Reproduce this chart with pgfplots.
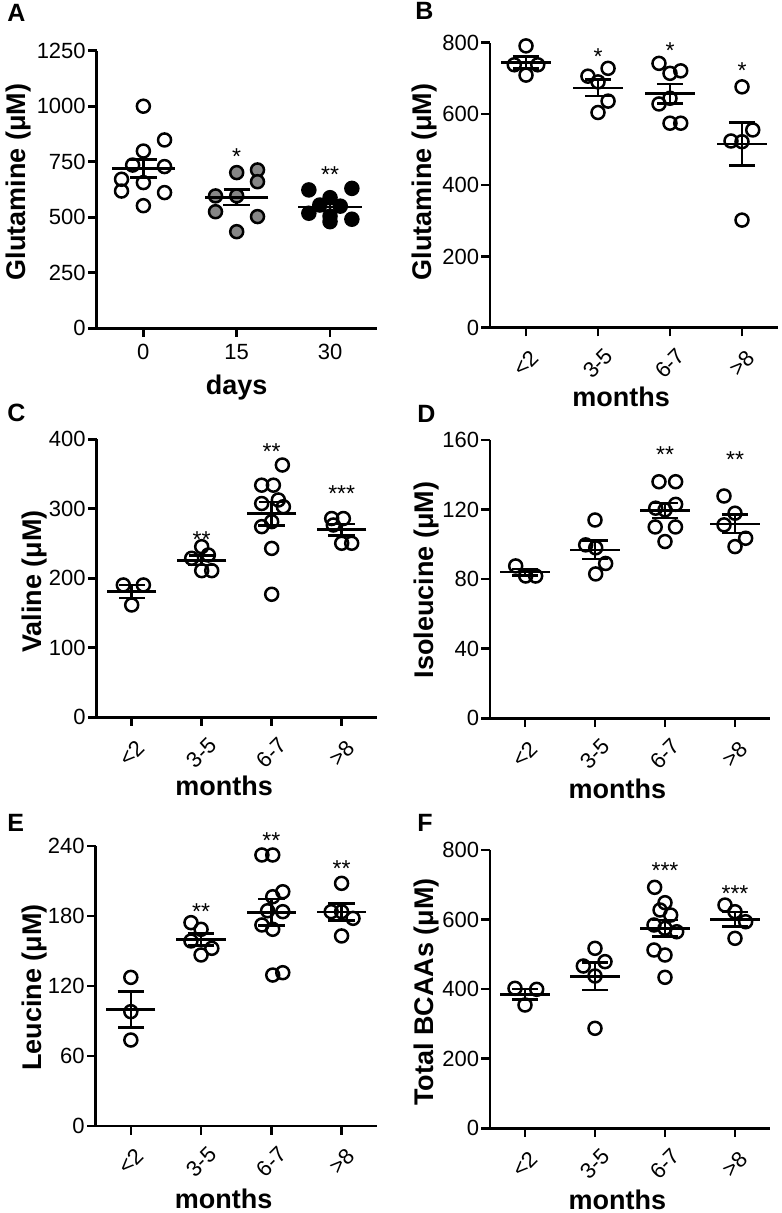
\documentclass[border=0pt]{standalone}
\usepackage{fontspec}
\setmainfont{Liberation Sans}
\usepackage{pgfplots}
\pgfplotsset{compat=1.18}

\tikzset{astr/.style={font=\fontsize{11.5}{12}\selectfont, inner sep=0pt}}
\pgfplotsset{
  panel/.style={
    scale only axis,
    anchor=south west,
    axis lines*=left,
    axis line style={line width=1.3pt, -},
    tick style={line width=1.3pt, black},
    tick align=outside,
    major tick length=4.3pt,
    ymin=0,
    clip=false,
    tick label style={font=\fontsize{11}{12}\selectfont},
    /pgf/number format/assume math mode=true,
    /pgf/number format/1000 sep={},
    scaled y ticks=false,
    label style={font=\bfseries\fontsize{13.5}{15}\selectfont},
    yticklabel style={inner sep=1pt},
  },
  months/.style={
    xtick={0,1,2,3},
    xmin=-0.5, xmax=3.5,
    xticklabels={<2,3-5,6-7,>8},
    xticklabel style={rotate=45, anchor=center},
    xticklabel shift=13.5pt,
    xlabel={months},
  },
  pts/.style={only marks, mark=o, mark size=3.25pt, mark options={line width=1.25pt, black}},
  meanbar/.style={black, only marks, mark=-, mark size=#1, mark options={line width=1.3pt},
    error bars/.cd, y dir=both, y explicit,
    error bar style={line width=1.3pt},
    error mark options={rotate=90, mark size=6.6pt, line width=1.3pt}},
  meanbar/.default=12.3pt,
}

\begin{document}
\begin{tikzpicture}
\useasboundingbox (0,0) rectangle (390.5pt,606.5pt);

% panel letters
\begin{scope}[every node/.style={anchor=base west, inner sep=0pt, font=\bfseries\fontsize{12.5}{13}\selectfont}]
\node at (3.5pt,595.5pt) {A};
\node at (207.5pt,596.5pt) {B};
\node at (3.5pt,395.65pt) {C};
\node at (208.5pt,395pt) {D};
\node at (3.5pt,190.65pt) {E};
\node at (208.5pt,190.5pt) {F};
\end{scope}

% ---------------- A ----------------
\begin{axis}[panel, at={(48.35pt,442.35pt)}, width=140pt, height=138.8pt,
  ymax=1250, ytick={0,250,500,750,1000,1250},
  xtick={0,1,2}, xmin=-0.5, xmax=2.5, xticklabels={0,15,30},
  xticklabel style={anchor=north},
  xlabel={days}, xlabel style={at={(axis description cs:0.5,-0.237)}, anchor=base},
  ylabel={Glutamine (μM)}, ylabel style={at={(axis description cs:-0.256,0.527)}, anchor=base}]
\addplot[pts] table {
x y
0 1000
0.227 848
0 798
-0.115 735
0.227 728
-0.234 671
0 656
-0.234 618
0.227 611
0 552
};
\addplot[only marks, mark=*, mark size=3.25pt, mark options={line width=1.25pt, draw=black, fill=gray!95!white}] table {
x y
1 701
1.223 713
1.223 660
0.773 596
1 596
0.773 525
1.223 503
1 435
};
\addplot[only marks, mark=*, mark size=3.25pt, mark options={line width=1.25pt, draw=black, fill=black}] table {
x y
1.773 623
2.234 630
2 588
1.89 555
2.11 550
1.773 518
2.234 491
2 480
2 505
};
\addplot[meanbar=15.8pt] table[x=x, y=m, y error=e] {
x m e
0 720 41
1 590 35
2 547 18
};
\node[astr] at (axis cs:1,773) {*};
\node[astr] at (axis cs:2,691) {**};
\end{axis}

% ---------------- B ----------------
\begin{axis}[panel, months, at={(245pt,442.65pt)}, width=144pt, height=142.5pt,
  ymax=800, ytick={0,200,400,600,800},
  xlabel style={at={(axis description cs:0.455,-0.277)}, anchor=base},
  ylabel={Glutamine (μM)}, ylabel style={at={(axis description cs:-0.202,0.512)}, anchor=base}]
\addplot[pts] table {
x y
0 791
-0.163 738
0.163 738
0 709
0.86 706
1.14 728
1 690
1.14 636
1 604
1.847 742
2 714
2.149 721
2 644
1.847 628
2 574
2.149 574
3 676
3.149 555
2.847 524
3 522
3 302
};
\addplot[meanbar] table[x=x, y=m, y error=e] {
x m e
0 744 17
1 673 23
2 657 27
3 516 60
};
\node[astr] at (axis cs:1,761) {*};
\node[astr] at (axis cs:2,779) {*};
\node[astr] at (axis cs:3,723) {*};
\end{axis}

% ---------------- C ----------------
\begin{axis}[panel, months, at={(48.35pt,247.85pt)}, width=140pt, height=139pt,
  ymax=400, ytick={0,100,200,300,400},
  xlabel style={at={(axis description cs:0.455,-0.283)}, anchor=base},
  ylabel={Valine (μM)}, ylabel style={at={(axis description cs:-0.196,0.488)}, anchor=base}]
\addplot[pts] table {
x y
-0.12 190.4
0.167 190.4
0 161.6
1 245.5
0.857 228.8
1.095 233.5
1 211
1.143 211
2.152 363
1.857 334
2.024 334
1.857 307.6
2.095 312.7
2.167 303
2 281.5
1.857 274.3
2 243
2 177
2.857 286
3.024 286
2.88 276.7
3 250.4
3.143 250.4
};
\addplot[meanbar] table[x=x, y=m, y error=e] {
x m e
0 181 9.6
1 226 6.7
2 293 17
3 270 8.1
};
\node[astr] at (axis cs:1,255) {**};
\node[astr] at (axis cs:2,382) {**};
\node[astr] at (axis cs:3,322) {***};
\end{axis}

% ---------------- D ----------------
\begin{axis}[panel, months, at={(245pt,247.35pt)}, width=140pt, height=139.15pt,
  ymax=160, ytick={0,40,80,120,160},
  xlabel style={at={(axis description cs:0.455,-0.287)}, anchor=base},
  ylabel={Isoleucine (μM)}, ylabel style={at={(axis description cs:-0.2025,0.497)}, anchor=base}]
\addplot[pts] table {
x y
-0.133 87.6
0.01 81.8
0.152 81.8
1 114
0.867 99.7
1.01 98
1.152 89
1.01 83
1.914 136
2.152 136
1.867 120.8
2.152 123
2 119.8
1.86 110
2.15 110
2 101.6
2.843 127.8
3 117.9
2.843 111.2
3.152 103.5
3 98.7
};
\addplot[meanbar] table[x=x, y=m, y error=e] {
x m e
0 84 1.9
1 96.8 5.3
2 119.5 4.3
3 111.8 5.2
};
\node[astr] at (axis cs:2,151.8) {**};
\node[astr] at (axis cs:3,148.5) {**};
\end{axis}

% ---------------- E ----------------
\begin{axis}[panel, months, at={(47.85pt,43.5pt)}, width=140.5pt, height=140pt,
  ymax=240, ytick={0,60,120,180,240},
  xlabel style={at={(axis description cs:0.455,-0.296)}, anchor=base},
  ylabel={Leucine (μM)}, ylabel style={at={(axis description cs:-0.192,0.495)}, anchor=base}]
\addplot[pts] table {
x y
0 127.4
0 98
0 73.7
0.856 174.3
1 168.6
0.856 158.6
1 146.6
1.153 152.3
1.866 232.3
2.02 232.3
2.163 200.8
2.02 196.5
1.947 184.5
2.163 183.7
1.866 172.3
2.02 168.6
2.02 129.4
2.163 131.4
3 208
2.852 183.7
3 183.7
3.163 178
3 162.9
};
\addplot[meanbar] table[x=x, y=m, y error=e] {
x m e
0 99.7 15.4
1 160 5.1
2 183.2 11.2
3 183.3 7.3
};
\node[astr] at (axis cs:1,183.7) {**};
\node[astr] at (axis cs:2,244.3) {**};
\node[astr] at (axis cs:3,220.3) {**};
\end{axis}

% ---------------- F ----------------
\begin{axis}[panel, months, at={(245pt,42.35pt)}, width=140pt, height=139.15pt,
  ymax=800, ytick={0,200,400,600,800},
  xlabel style={at={(axis description cs:0.455,-0.291)}, anchor=base},
  ylabel={Total BCAAs (μM)}, ylabel style={at={(axis description cs:-0.2025,0.49)}, anchor=base}]
\addplot[pts] table {
x y
-0.143 402.4
0.167 399.5
0 354.4
1 517.4
0.833 466.5
1.143 479
1 437.8
1 287.4
1.852 692.7
2 648.5
1.929 627.5
2.081 613
1.843 584.4
2 574.9
2.167 565
1.843 512.5
2 498.1
2 434
2.857 641.8
3 622.6
3.152 593.8
3 546.1
};
\addplot[meanbar] table[x=x, y=m, y error=e] {
x m e
0 385 15.5
1 437 39
2 575 24
3 601 21
};
\node[astr] at (axis cs:2,740) {***};
\node[astr] at (axis cs:3,673.7) {***};
\end{axis}
\end{tikzpicture}
\end{document}
